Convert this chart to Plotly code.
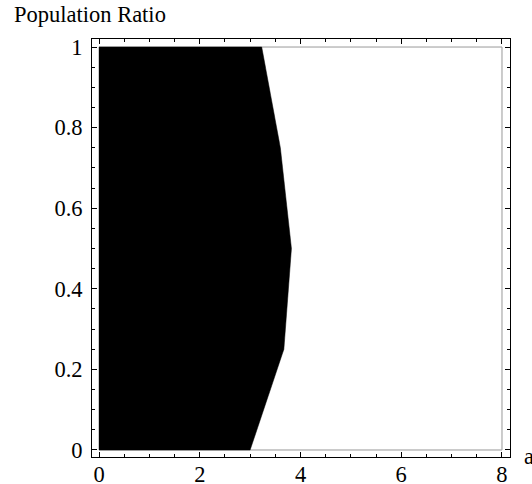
import plotly.graph_objects as go

# Boundary of the shaded region: for each population ratio, the value of a
ratio = [0.0, 0.25, 0.5, 0.75, 1.0]
boundary_a = [3.0, 3.67, 3.82, 3.6, 3.23]

x_ticks = [0, 2, 4, 6, 8]
y_ticks = [0, 0.2, 0.4, 0.6, 0.8, 1]
y_tick_text = ["0", "0.2", "0.4", "0.6", "0.8", "1"]

W, H = 532, 484
L, R, T, B = 92, 22, 39, 27

# polygon: left edge at a=0, right edge along the boundary
poly_x = [0] + boundary_a + [0]
poly_y = [0] + ratio + [1]

fig = go.Figure()
fig.add_trace(go.Scatter(
    x=poly_x, y=poly_y, mode="lines", fill="toself",
    fillcolor="black", line=dict(color="black", width=0.5),
    hoverinfo="skip", showlegend=False,
))

font = dict(family="Liberation Serif, Times New Roman, serif", size=22.5, color="black")

axis_common = dict(
    showline=True, linecolor="black", linewidth=1, mirror="allticks",
    ticks="inside", ticklen=5, tickcolor="black", tickwidth=1,
    showgrid=False, zeroline=False, tickfont=font,
)

fig.update_xaxes(
    range=[-0.139, 8.159], tickvals=x_ticks, ticktext=[str(v) for v in x_ticks],
    ticklabelstandoff=-3,
    minor=dict(dtick=0.5, ticks="inside", ticklen=3, tickcolor="black", showgrid=False),
    **axis_common,
)
fig.update_yaxes(
    range=[-0.0174, 1.0199], tickvals=y_ticks, ticktext=y_tick_text,
    ticklabelstandoff=4,
    minor=dict(dtick=0.05, ticks="inside", ticklen=3, tickcolor="black", showgrid=False),
    **axis_common,
)

# thin grey frame around the data extent
fig.add_shape(type="rect", x0=0, x1=8, y0=0, y1=1, xref="x", yref="y",
              line=dict(color="#999999", width=1), layer="below")

pw, ph = W - L - R, H - T - B
fig.add_annotation(text="Population Ratio", xref="paper", yref="paper",
                   x=(12 - L) / pw, y=(H - B - 15) / ph, xanchor="left", yanchor="middle",
                   showarrow=False, font=font)
fig.add_annotation(text="a", xref="paper", yref="paper",
                   x=(522 - L) / pw, y=(H - B - 456) / ph, xanchor="left", yanchor="middle",
                   showarrow=False, font=font)

fig.update_layout(
    width=W, height=H, margin=dict(l=L, r=R, t=T, b=B, autoexpand=False),
    paper_bgcolor="white", plot_bgcolor="white", font=font,
)

fig.write_html("out.html")
